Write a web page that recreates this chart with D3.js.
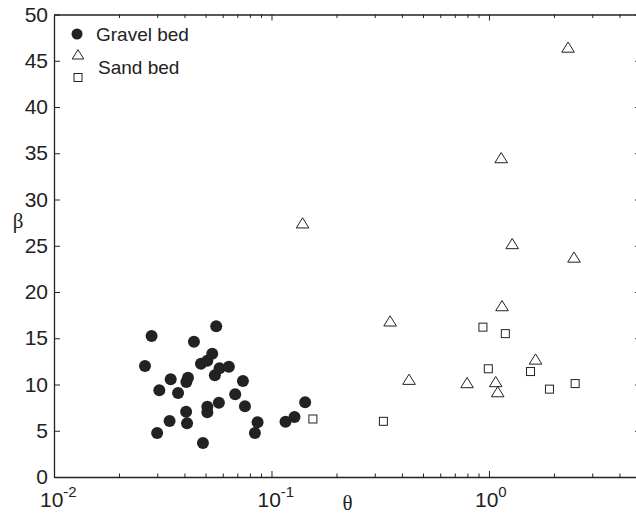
<!DOCTYPE html>
<html><head><meta charset="utf-8">
<script src="https://cdn.jsdelivr.net/npm/d3@7"></script>
<style>body{margin:0;background:#fff}svg{display:block}</style>
</head><body>
<svg id="c" width="636" height="514"></svg>
<script>
// Data (theta, beta)
const gravelTheta = [0.0262,0.0281,0.0298,0.0305,0.0340,0.0344,0.0372,0.0405,0.0409,0.0406,0.0413,0.0440,0.0474,0.0484,0.0507,0.0507,0.0507,0.0534,0.0557,0.0549,0.0577,0.0573,0.0637,0.0681,0.0739,0.0755,0.0839,0.0863,0.116,0.1276,0.1428];
const gravelBeta  = [12.0,15.24,4.76,9.37,6.05,10.56,9.08,7.06,5.8,10.27,10.74,14.63,12.25,3.68,12.58,7.6,7.0,13.33,16.29,11.0,11.75,8.03,11.92,8.94,10.38,7.64,4.76,5.91,5.98,6.49,8.07];
const sandTriTheta = [0.139,0.351,0.429,0.793,1.074,1.097,1.148,1.138,1.279,1.637,2.46,2.31];
const sandTriBeta  = [27.4,16.8,10.49,10.13,10.24,9.15,18.45,34.45,25.16,12.68,23.7,46.4];
const sandSqTheta = [0.155,0.327,0.938,1.189,0.993,1.552,1.897,2.49];
const sandSqBeta  = [6.27,6.02,16.2,15.5,11.7,11.4,9.5,10.1];
const yTicks = [0,5,10,15,20,25,30,35,40,45,50];
const xMajor = [0.01,0.1,1];
const xMajorExp = ["-2","-1","0"];
const legendLabels = ["Gravel bed","Sand bed"];

const svg = d3.select("#c");
const L=54, R=641, T=14.5, B=477;
const x = d3.scaleLog().domain([0.01,5]).range([L,R]);
const y = d3.scaleLinear().domain([0,50]).range([B,T]);
const ink = "#222";
const font = "'Liberation Sans', Arial, sans-serif";

// minor ticks
const minor = [];
[0.01,0.1,1].forEach(d=>{for(let k=2;k<=9;k++){const v=d*k; if(v<=5) minor.push(v);}});

const axB = svg.append("g").attr("transform",`translate(0,${B})`)
  .call(d3.axisBottom(x).tickValues(xMajor).tickSizeInner(-6).tickSizeOuter(0).tickFormat(""));
axB.append("g").selectAll("line").data(minor).join("line")
  .attr("x1",d=>x(d)).attr("x2",d=>x(d)).attr("y1",0).attr("y2",-3.5);
const axT = svg.append("g").attr("transform",`translate(0,${T})`)
  .call(d3.axisTop(x).tickValues(xMajor).tickSizeInner(-6).tickSizeOuter(0).tickFormat(""));
axT.append("g").selectAll("line").data(minor).join("line")
  .attr("x1",d=>x(d)).attr("x2",d=>x(d)).attr("y1",0).attr("y2",3.5);
const axL = svg.append("g").attr("transform",`translate(${L},0)`)
  .call(d3.axisLeft(y).tickValues(yTicks).tickSizeInner(-6).tickSizeOuter(0).tickPadding(10));
const axR = svg.append("g").attr("transform",`translate(${R},0)`)
  .call(d3.axisRight(y).tickValues(yTicks).tickSizeInner(-6).tickSizeOuter(0).tickFormat(""));
svg.selectAll(".domain").attr("stroke",ink).attr("stroke-width",1.3);
svg.selectAll(".tick line, g line").attr("stroke",ink).attr("stroke-width",1);
axL.selectAll("text").attr("font-family",font).attr("font-size",21).attr("fill",ink).attr("x",-6);

// x labels with superscripts
const xl = svg.append("g");
xMajor.forEach((v,i)=>{
  const t = xl.append("text").attr("x",x(v)-14).attr("y",507)
    .attr("font-family",font).attr("font-size",21).attr("fill",ink).attr("text-anchor","start");
  t.append("tspan").text("10");
  t.append("tspan").attr("dy",-10).attr("font-size",15).text(xMajorExp[i]);
});
svg.append("text").attr("x",347.5).attr("y",510).attr("text-anchor","middle")
  .attr("font-family","'Liberation Serif','Times New Roman',serif").attr("font-size",21).attr("fill",ink).text("θ");
svg.append("text").attr("x",18).attr("y",228).attr("text-anchor","middle")
  .attr("font-family","'Liberation Serif','Times New Roman',serif").attr("font-size",21).attr("fill",ink).text("β");

// markers
const triPath = "M0,-5.8L6.3,4.4L-6.3,4.4Z";
const g = svg.append("g");
g.selectAll("circle.gv").data(gravelTheta).join("circle").attr("class","gv")
  .attr("cx",d=>x(d)).attr("cy",(d,i)=>y(gravelBeta[i])).attr("r",6).attr("fill",ink);
g.selectAll("path.tri").data(sandTriTheta).join("path").attr("class","tri")
  .attr("transform",(d,i)=>`translate(${x(d)},${y(sandTriBeta[i])})`).attr("d",triPath)
  .attr("fill","none").attr("stroke",ink).attr("stroke-width",1);
g.selectAll("rect.sq").data(sandSqTheta).join("rect").attr("class","sq")
  .attr("x",d=>x(d)-4).attr("y",(d,i)=>y(sandSqBeta[i])-4).attr("width",8).attr("height",8)
  .attr("fill","none").attr("stroke",ink).attr("stroke-width",1);

// legend
const lg = svg.append("g");
lg.append("circle").attr("cx",77).attr("cy",34).attr("r",5.5).attr("fill",ink);
lg.append("path").attr("transform","translate(78,55)").attr("d","M0,-5.3L5.8,4L-5.8,4Z").attr("fill","none").attr("stroke",ink);
lg.append("rect").attr("x",74).attr("y",73.5).attr("width",8).attr("height",8).attr("fill","none").attr("stroke",ink);
lg.append("text").attr("x",96).attr("y",40.5).attr("font-family",font).attr("font-size",19).attr("fill",ink).text(legendLabels[0]);
lg.append("text").attr("x",98).attr("y",74).attr("font-family",font).attr("font-size",19).attr("fill",ink).text(legendLabels[1]);
</script>
</body></html>
